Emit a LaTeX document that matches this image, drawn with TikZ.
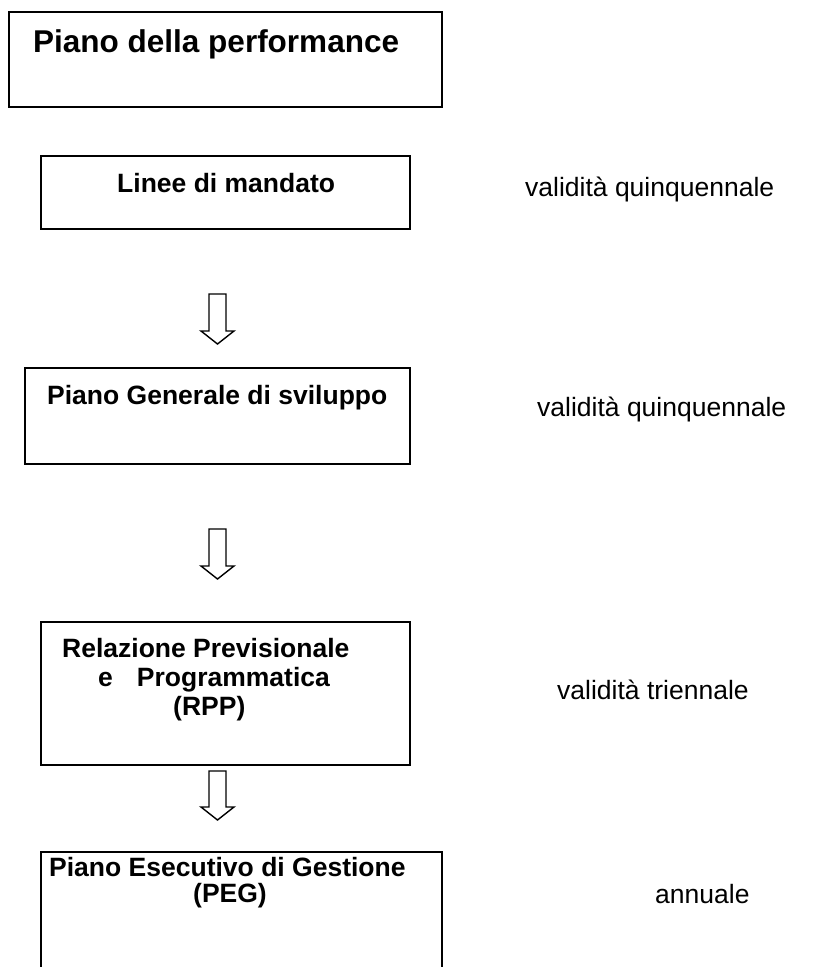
\documentclass[tikz,border=0pt]{standalone}
\usepackage{fontspec}
\setmainfont{Liberation Sans}
\begin{document}
\begin{tikzpicture}[x=1pt,y=-1pt,
  box/.style={draw, line width=1.6pt, rectangle, inner sep=0pt, outer sep=0pt},
  ttl/.style={anchor=base west, inner sep=0pt, font=\fontsize{26.5}{29}\selectfont\bfseries},
  bigttl/.style={anchor=base west, inner sep=0pt, font=\fontsize{31.5}{34}\selectfont\bfseries},
  lbl/.style={anchor=base west, inner sep=0pt, font=\fontsize{26.5}{29}\selectfont},
  blockarr/.style={draw, line width=1.4pt, fill=white, line join=miter}]
\useasboundingbox (0,0) rectangle (816,967);
\clip (0,0) rectangle (816,967);

% boxes
\node[box, minimum width=433, minimum height=95] (b1) at (225.5,59.5) {};
\node[box, minimum width=369, minimum height=73] (b2) at (225.5,192.5) {};
\node[box, minimum width=385, minimum height=96] (b3) at (217.5,416) {};
\node[box, minimum width=369, minimum height=143] (b4) at (225.5,693.5) {};
\node[box, minimum width=401, minimum height=140] (b5) at (241.5,922) {};

% titles
\node[bigttl] (t1) at (33,52) {Piano della performance};
\node[ttl] (t2) at (117,192) {Linee di mandato};
\node[ttl] (t3) at (47,404) {Piano Generale di sviluppo};
\node[ttl] (t4a) at (62,657) {Relazione Previsionale};
\node[ttl] (t4b) at (98,686) {e\hspace{24pt}Programmatica};
\node[ttl] (t4c) at (173,715) {(RPP)};
\node[ttl] (t5a) at (49,876) {Piano Esecutivo di Gestione};
\node[ttl] (t5b) at (193,902) {(PEG)};

% side labels
\node[lbl] (l1) at (525,196) {validità quinquennale};
\node[lbl] (l2) at (537,416) {validità quinquennale};
\node[lbl] (l3) at (557,699) {validità triennale};
\node[lbl] (l4) at (655,903) {annuale};

% block arrows
\coordinate (a1) at (217.5,294);
\coordinate (a2) at (217.5,529);
\coordinate (a3) at (217.5,771);
\foreach \c/\h in {a1/37, a2/37, a3/36} {
  \draw[blockarr] (\c) ++(-8.5,0) -- ++(0,\h) -- ++(-8,0) -- ++(16.5,13)
     -- ++(16.5,-13) -- ++(-8,0) -- ++(0,-\h) -- cycle;
}
\end{tikzpicture}
\end{document}
